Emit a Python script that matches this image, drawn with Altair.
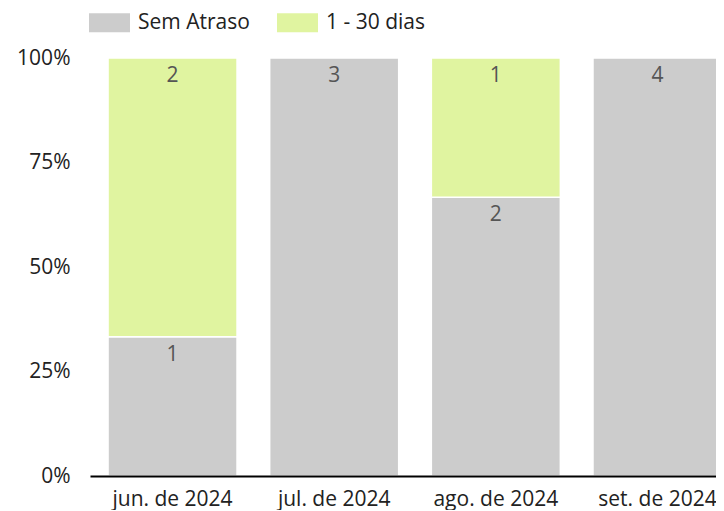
import altair as alt
import pandas as pd

months = ["jun. de 2024", "jul. de 2024", "ago. de 2024", "set. de 2024"]
sem_atraso = [1, 3, 2, 4]
dias_1_30 = [2, 0, 1, 0]
series = ["Sem Atraso", "1 - 30 dias"]
colors = ["#cccccc", "#e0f4a0"]

rows = []
for i, m in enumerate(months):
    rows.append({"mes": m, "status": series[0], "count": sem_atraso[i], "ord": 0})
    rows.append({"mes": m, "status": series[1], "count": dias_1_30[i], "ord": 1})
df = pd.DataFrame(rows)

FONT = "Open Sans"
FS = 21

base = alt.Chart(df).transform_filter("datum.count > 0")

x = alt.X("mes:N", sort=months, title=None,
          scale=alt.Scale(paddingInner=0.202, paddingOuter=0.062, align=0.9),
          axis=alt.Axis(labelAngle=0, ticks=False, domainColor="#000000", domainWidth=2,
                        labelPadding=12, labelFontSize=FS, labelColor="#222222", labelFont=FONT,
                        zindex=1))

bars = base.mark_bar(stroke="white", strokeWidth=1.5).encode(
    x=x,
    y=alt.Y("count:Q", stack="normalize", title=None,
            scale=alt.Scale(domain=[0, 1], nice=False),
            axis=alt.Axis(format="%", values=[0, 0.25, 0.5, 0.75, 1], grid=False, domain=False,
                          ticks=False, labelPadding=20, labelFontSize=FS, labelColor="#222222",
                          labelFont=FONT)),
    color=alt.Color("status:N", sort=series,
                    scale=alt.Scale(domain=series, range=colors),
                    legend=alt.Legend(title=None, orient="none", legendX=-1, legendY=-56,
                                      direction="horizontal",
                                      symbolType="M-1,-0.463H1V0.463H-1Z", symbolSize=1681,
                                      symbolStrokeWidth=0, labelFontSize=FS, labelFont=FONT,
                                      labelColor="#222222", labelOffset=8, columnPadding=27)),
    order=alt.Order("ord:Q"),
)

labels = base.mark_text(baseline="top", dy=7, fontSize=FS, font=FONT, color="#555555").encode(
    x=alt.X("mes:N", sort=months),
    y=alt.Y("count:Q", stack="normalize"),
    detail="status:N",
    order=alt.Order("ord:Q"),
    text="count:Q",
)

chart = alt.layer(bars, labels).properties(
    width=634, height=418,
    autosize=alt.AutoSizeParams(type="none"),
    padding={"left": 82, "top": 50, "right": -8, "bottom": 34},
).configure_view(stroke=None)

chart.save("out.html", embed_options={"renderer": "svg", "actions": False})
